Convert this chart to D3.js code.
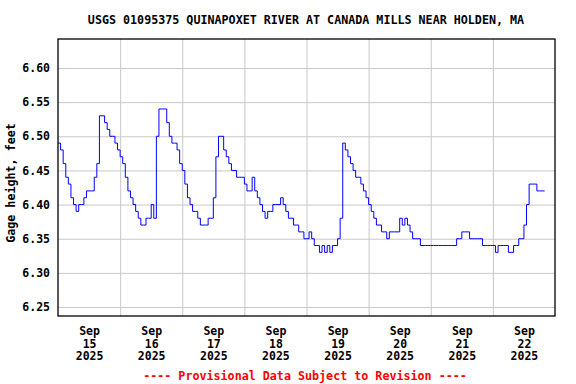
<!DOCTYPE html>
<html>
<head>
<meta charset="utf-8">
<script src="https://cdn.jsdelivr.net/npm/d3@7"></script>
<style>
  html, body { margin: 0; padding: 0; background: #fff; }
  svg { display: block; }
  text { font-family: "DejaVu Sans Mono", "Liberation Mono", monospace; font-weight: bold; }
</style>
</head>
<body>
<svg id="chart" width="576" height="384"></svg>
<script>
// ---- Data (hourly gage height, feet, starting 2025-09-15 00:00) ----
const title = "USGS 01095375 QUINAPOXET RIVER AT CANADA MILLS NEAR HOLDEN, MA";
const yAxisTitle = "Gage height, feet";
const footer = "---- Provisional Data Subject to Revision ----";
const startTime = new Date(2025, 8, 15, 0, 0);
const endTime = new Date(2025, 8, 23, 0, 0);
const gageHeight = [
  // Sep 15
  6.49, 6.48, 6.46, 6.44, 6.43, 6.41, 6.40, 6.39, 6.40, 6.40, 6.41, 6.42,
  6.42, 6.42, 6.44, 6.46, 6.53, 6.53, 6.52, 6.51, 6.50, 6.50, 6.49, 6.48,
  // Sep 16
  6.47, 6.46, 6.44, 6.42, 6.41, 6.40, 6.39, 6.38, 6.37, 6.37, 6.38, 6.38,
  6.40, 6.38, 6.50, 6.54, 6.54, 6.54, 6.52, 6.50, 6.49, 6.49, 6.48, 6.46,
  // Sep 17
  6.45, 6.43, 6.41, 6.40, 6.39, 6.39, 6.38, 6.37, 6.37, 6.37, 6.38, 6.38,
  6.41, 6.47, 6.50, 6.50, 6.48, 6.47, 6.46, 6.45, 6.45, 6.44, 6.44, 6.44,
  // Sep 18
  6.43, 6.42, 6.42, 6.44, 6.42, 6.41, 6.40, 6.39, 6.38, 6.39, 6.39, 6.40,
  6.40, 6.40, 6.41, 6.40, 6.39, 6.38, 6.38, 6.37, 6.37, 6.36, 6.36, 6.35,
  // Sep 19
  6.35, 6.36, 6.35, 6.34, 6.34, 6.33, 6.34, 6.33, 6.34, 6.33, 6.34, 6.34,
  6.35, 6.38, 6.49, 6.48, 6.47, 6.46, 6.45, 6.44, 6.44, 6.43, 6.42, 6.41,
  // Sep 20
  6.40, 6.39, 6.38, 6.37, 6.37, 6.36, 6.36, 6.35, 6.36, 6.36, 6.36, 6.36,
  6.38, 6.37, 6.38, 6.37, 6.36, 6.35, 6.35, 6.35, 6.34, 6.34, 6.34, 6.34,
  // Sep 21
  6.34, 6.34, 6.34, 6.34, 6.34, 6.34, 6.34, 6.34, 6.34, 6.34, 6.35, 6.35,
  6.36, 6.36, 6.36, 6.35, 6.35, 6.35, 6.35, 6.35, 6.34, 6.34, 6.34, 6.34,
  // Sep 22
  6.34, 6.33, 6.34, 6.34, 6.34, 6.34, 6.33, 6.33, 6.34, 6.34, 6.35, 6.35,
  6.37, 6.40, 6.43, 6.43, 6.43, 6.42, 6.42, 6.42, 6.42
];
const yTicks = [6.25, 6.30, 6.35, 6.40, 6.45, 6.50, 6.55, 6.60];
const dayMonths = ["Sep", "Sep", "Sep", "Sep", "Sep", "Sep", "Sep", "Sep"];
const dayNumbers = ["15", "16", "17", "18", "19", "20", "21", "22"];
const dayYears = ["2025", "2025", "2025", "2025", "2025", "2025", "2025", "2025"];

// ---- Layout ----
const W = 576, H = 384;
const margin = { left: 58, right: 21, top: 39, bottom: 68 };
const pw = W - margin.left - margin.right;
const ph = H - margin.top - margin.bottom;

const svg = d3.select("#chart");
const g = svg.append("g").attr("transform", `translate(${margin.left},${margin.top})`);

const x = d3.scaleTime().domain([startTime, endTime]).range([0, pw]);
const y = d3.scaleLinear().domain([6.2368, 6.6425]).range([ph, 0]);

const data = gageHeight.map((v, i) => ({ t: d3.timeHour.offset(startTime, i), v }));

// gridlines
const midnights = d3.range(1, 8).map(i => d3.timeDay.offset(startTime, i));
g.append("g")
  .attr("transform", `translate(0,${ph})`)
  .call(d3.axisBottom(x).tickValues(midnights).tickSize(-ph).tickFormat(""))
  .call(a => a.select(".domain").remove())
  .call(a => a.selectAll("line").attr("stroke", "#c8c8c8").attr("stroke-width", 1));
g.append("g")
  .call(d3.axisLeft(y).tickValues(yTicks).tickSize(-pw).tickFormat(""))
  .call(a => a.select(".domain").remove())
  .call(a => a.selectAll("line").attr("stroke", "#c8c8c8").attr("stroke-width", 1));

// data line
g.append("path")
  .datum(data)
  .attr("fill", "none")
  .attr("stroke", "#0000ff")
  .attr("stroke-width", 1)
  .attr("d", d3.line().curve(d3.curveStepAfter).x(d => x(d.t)).y(d => y(d.v)));

// frame
g.append("rect")
  .attr("x", 0).attr("y", 0).attr("width", pw).attr("height", ph)
  .attr("fill", "none").attr("stroke", "#000").attr("stroke-width", 1.3);

// y axis labels
g.append("g")
  .call(d3.axisLeft(y).tickValues(yTicks).tickSize(0).tickPadding(8).tickFormat(d3.format(".2f")))
  .call(a => a.select(".domain").remove())
  .call(a => a.selectAll("text")
    .attr("font-family", "DejaVu Sans Mono, monospace")
    .attr("font-weight", "bold")
    .attr("font-size", 11.5)
    .attr("fill", "#000"));

// x axis labels (three lines at noon of each day)
const noons = d3.range(0, 8).map(i => d3.timeHour.offset(startTime, 24 * i + 12));
const xa = g.append("g")
  .attr("transform", `translate(0,${ph})`)
  .call(d3.axisBottom(x).tickValues(noons).tickSize(0).tickFormat(""));
xa.select(".domain").remove();
xa.selectAll(".tick").each(function (d, i) {
  const t = d3.select(this).select("text")
    .attr("font-family", "DejaVu Sans Mono, monospace")
    .attr("font-weight", "bold")
    .attr("font-size", 11.5)
    .attr("fill", "#000")
    .attr("dy", null)
    .attr("y", 0);
  [dayMonths[i], dayNumbers[i], dayYears[i]].forEach((s, k) => {
    t.append("tspan").attr("x", 0).attr("y", 19 + k * 12.6).text(s);
  });
});

// title
svg.append("text")
  .attr("x", 306).attr("y", 23.5)
  .attr("text-anchor", "middle")
  .attr("font-size", 11.7)
  .attr("fill", "#000")
  .text(title);

// y axis title
svg.append("text")
  .attr("transform", `translate(15,${183}) rotate(-90)`)
  .attr("text-anchor", "middle")
  .attr("font-size", 11.7)
  .attr("fill", "#000")
  .text(yAxisTitle);

// footer
svg.append("text")
  .attr("x", 305).attr("y", 379.5)
  .attr("text-anchor", "middle")
  .attr("font-size", 11.7)
  .attr("fill", "#ff0000")
  .text(footer);
</script>
</body>
</html>
